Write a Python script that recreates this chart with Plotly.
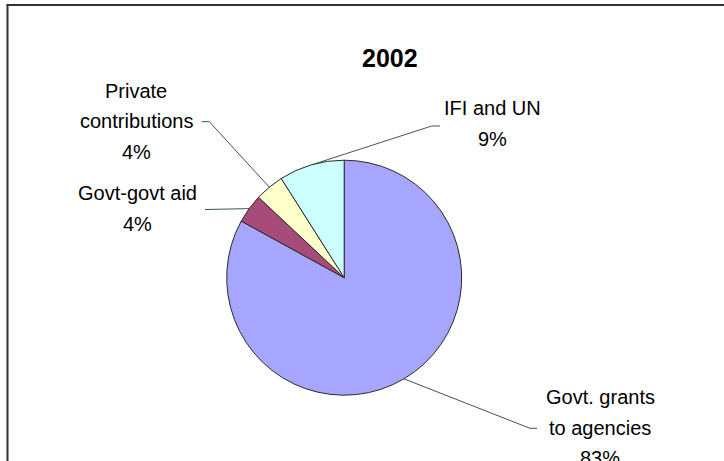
import math
import plotly.graph_objects as go

W, H = 724, 461

# Funding sources, 2002 (percent of total)
sources = ["Govt. grants to agencies", "Govt-govt aid", "Private contributions", "IFI and UN"]
shares = [83, 4, 4, 9]
colors = ["#A6A6FF", "#A64B7A", "#FFFFCC", "#CCFFFF"]

# Label text lines for each slice (name lines + percentage)
label_lines = [
    ["Govt. grants", "to agencies"],
    ["Govt-govt aid"],
    ["Private", "contributions"],
    ["IFI and UN"],
]

# Pie geometry in pixels
cx, cy, r = 344.2, 277.7, 117.5

# Label block placement (center x, y of first line) and leader elbow/end points
label_pos = [(600, 397), (137, 193), (136, 91), (492, 108)]
leader_elbow = [(530, 428.3), (213, 209.5), (209.3, 121.7), (431.7, 126)]
leader_end = [(537, 428.3), (205, 209.5), (201.7, 121.7), (440, 126)]
line_gap = 30.5


def px(x):
    return x / W


def py(y):
    return 1 - y / H


fig = go.Figure()

fig.add_trace(go.Pie(
    labels=sources,
    values=shares,
    sort=False,
    direction="clockwise",
    rotation=0,
    textinfo="none",
    hoverinfo="label+percent",
    marker=dict(colors=colors, line=dict(color="#2a2a2a", width=1)),
    domain=dict(x=[px(cx - r), px(cx + r)], y=[py(cy + r), py(cy - r)]),
    showlegend=False,
))

# Leader lines from each slice's outer mid-point to its label
total = sum(shares)
cum = 0
lx, ly = [], []
for v, elbow, end in zip(shares, leader_elbow, leader_end):
    mid = (cum + v / 2) / total * 2 * math.pi
    cum += v
    ax = cx + r * math.sin(mid)
    ay = cy - r * math.cos(mid)
    lx += [ax, elbow[0], end[0], None]
    ly += [ay, elbow[1], end[1], None]

fig.add_trace(go.Scatter(
    x=lx, y=ly, mode="lines",
    line=dict(color="#3b5757", width=1),
    hoverinfo="skip", showlegend=False,
    xaxis="x", yaxis="y",
))

annotations = []
font = dict(family="Arial, Liberation Sans, sans-serif", size=20, color="black")
for lines, v, (lxp, lyp) in zip(label_lines, shares, label_pos):
    texts = lines + [f"{round(v / total * 100)}%"]
    for i, t in enumerate(texts):
        annotations.append(dict(
            text=t, x=px(lxp), y=py(lyp + i * line_gap),
            xref="paper", yref="paper", xanchor="center", yanchor="middle",
            showarrow=False, font=font,
        ))

annotations.append(dict(
    text="<b>2002</b>", x=px(390), y=py(58),
    xref="paper", yref="paper", xanchor="center", yanchor="middle",
    showarrow=False,
    font=dict(family="Arial, Liberation Sans, sans-serif", size=25, color="black"),
))

# Chart frame (left and top edges in view)
shapes = [
    dict(type="line", xref="paper", yref="paper", x0=px(7.5), x1=px(7.5), y0=py(4.5), y1=py(470),
         line=dict(color="#333333", width=2)),
    dict(type="line", xref="paper", yref="paper", x0=px(6.5), x1=px(740), y0=py(5), y1=py(5),
         line=dict(color="#333333", width=2)),
]

fig.update_layout(
    width=W, height=H,
    margin=dict(l=0, r=0, t=0, b=0),
    paper_bgcolor="white", plot_bgcolor="rgba(0,0,0,0)",
    xaxis=dict(range=[0, W], visible=False, domain=[0, 1], fixedrange=True),
    yaxis=dict(range=[H, 0], visible=False, domain=[0, 1], fixedrange=True),
    annotations=annotations,
    shapes=shapes,
)

fig.write_html("out.html")
